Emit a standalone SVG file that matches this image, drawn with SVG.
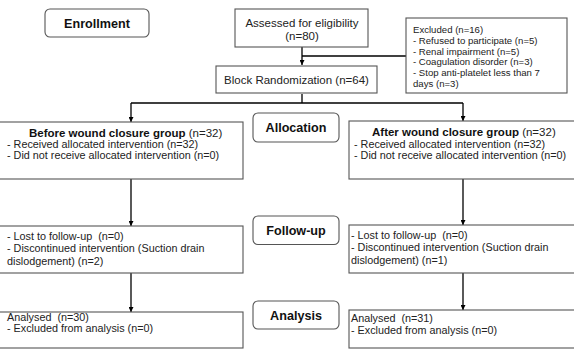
<svg xmlns="http://www.w3.org/2000/svg" width="574" height="352" viewBox="0 0 574 352">
<defs>
<style>
.box{fill:#fff;stroke:#555;stroke-width:1.1}
.lbl{fill:#fff;stroke:#555;stroke-width:1.1}
.t{font-family:"Liberation Sans",Arial,sans-serif;font-size:10.8px;fill:#222}
.tm{font-family:"Liberation Sans",Arial,sans-serif;font-size:11.5px;fill:#222}
.ts{font-family:"Liberation Sans",Arial,sans-serif;font-size:9.6px;fill:#222}
.b{font-family:"Liberation Sans",Arial,sans-serif;font-size:12.6px;font-weight:bold;fill:#111}
.conn{fill:none;stroke:#000;stroke-width:1.3}
</style>
<marker id="ah" viewBox="0 0 10 10" refX="10" refY="5" markerWidth="5" markerHeight="5" orient="auto" markerUnits="userSpaceOnUse">
<path d="M0,0 L10,5 L0,10 z" fill="#000"/>
</marker>
</defs>
<rect width="574" height="352" fill="#fff"/>

<g id="connectors">
<path class="conn" d="M302,47 V65" marker-end="url(#ah)"/>
<path class="conn" d="M302,56 H406"/>
<path class="conn" d="M302,94 V103 M131,103 H463"/>
<path class="conn" d="M131,103 V122" marker-end="url(#ah)"/>
<path class="conn" d="M463,103 V121" marker-end="url(#ah)"/>
<path class="conn" d="M131,179 V226" marker-end="url(#ah)"/>
<path class="conn" d="M463,179 V225" marker-end="url(#ah)"/>
<path class="conn" d="M131,273 V312" marker-end="url(#ah)"/>
<path class="conn" d="M463,273 V310" marker-end="url(#ah)"/>
</g>

<g id="enrollment">
<rect class="lbl" x="45" y="9" width="104" height="28" rx="5"/>
<text class="b" x="97" y="27.5" text-anchor="middle">Enrollment</text>
</g>

<g id="assessed">
<rect class="box" x="235" y="9" width="133" height="38"/>
<text class="tm" x="302" y="27" text-anchor="middle">Assessed for eligibility</text>
<text class="tm" x="302" y="40" text-anchor="middle">(n=80)</text>
</g>

<g id="excluded">
<rect class="box" x="406" y="18" width="161" height="75"/>
<text class="ts" x="413" y="33">Excluded (n=16)</text>
<text class="ts" x="413" y="44">- Refused to participate (n=5)</text>
<text class="ts" x="413" y="54.5">- Renal impairment (n=5)</text>
<text class="ts" x="413" y="65">- Coagulation disorder (n=3)</text>
<text class="ts" x="413" y="75.5">- Stop anti-platelet less than 7</text>
<text class="ts" x="413" y="86.5">days (n=3)</text>
</g>

<g id="randomization">
<rect class="box" x="216" y="66" width="161" height="27"/>
<text class="tm" x="296.5" y="84" text-anchor="middle">Block Randomization (n=64)</text>
</g>

<g id="allocation">
<rect class="lbl" x="253" y="113" width="86" height="29" rx="5"/>
<text class="b" x="296" y="131.5" text-anchor="middle">Allocation</text>
</g>

<g id="before-group">
<rect class="box" x="-2" y="122" width="245" height="57"/>
<text class="tm" x="29" y="136.5"><tspan font-weight="bold" fill="#111">Before wound closure group</tspan> (n=32)</text>
<text class="t" x="7" y="148">- Received allocated intervention (n=32)</text>
<text class="t" x="7" y="159">- Did not receive allocated intervention (n=0)</text>
</g>

<g id="after-group">
<rect class="box" x="349" y="121" width="230" height="58"/>
<text class="tm" x="372" y="136"><tspan font-weight="bold" fill="#111">After wound closure group</tspan> (n=32)</text>
<text class="t" x="354" y="147.5">- Received allocated intervention (n=32)</text>
<text class="t" x="354" y="158.5">- Did not receive allocated intervention (n=0)</text>
</g>

<g id="followup">
<rect class="lbl" x="253" y="216" width="86" height="28.5" rx="5"/>
<text class="b" x="296" y="234.5" text-anchor="middle">Follow-up</text>
</g>

<g id="before-followup">
<rect class="box" x="-2" y="226" width="245" height="47"/>
<text class="t" x="7" y="239.5">- Lost to follow-up &#160;(n=0)</text>
<text class="t" x="7" y="252">- Discontinued intervention (Suction drain</text>
<text class="t" x="7" y="264.5">dislodgement) (n=2)</text>
</g>

<g id="after-followup">
<rect class="box" x="349" y="225" width="230" height="48"/>
<text class="t" x="351" y="239">- Lost to follow-up &#160;(n=0)</text>
<text class="t" x="351" y="251">- Discontinued intervention (Suction drain</text>
<text class="t" x="351" y="263.5">dislodgement) (n=1)</text>
</g>

<g id="analysis">
<rect class="lbl" x="253" y="301" width="86" height="28" rx="5"/>
<text class="b" x="296" y="319.5" text-anchor="middle">Analysis</text>
</g>

<g id="before-analysis">
<rect class="box" x="-2" y="312" width="245" height="36"/>
<text class="t" x="7" y="320.5">Analysed &#160;(n=30)</text>
<text class="t" x="7" y="332">- Excluded from analysis (n=0)</text>
</g>

<g id="after-analysis">
<rect class="box" x="349" y="310" width="230" height="38"/>
<text class="t" x="351" y="322">Analysed &#160;(n=31)</text>
<text class="t" x="351" y="333.5">- Excluded from analysis (n=0)</text>
</g>
</svg>
